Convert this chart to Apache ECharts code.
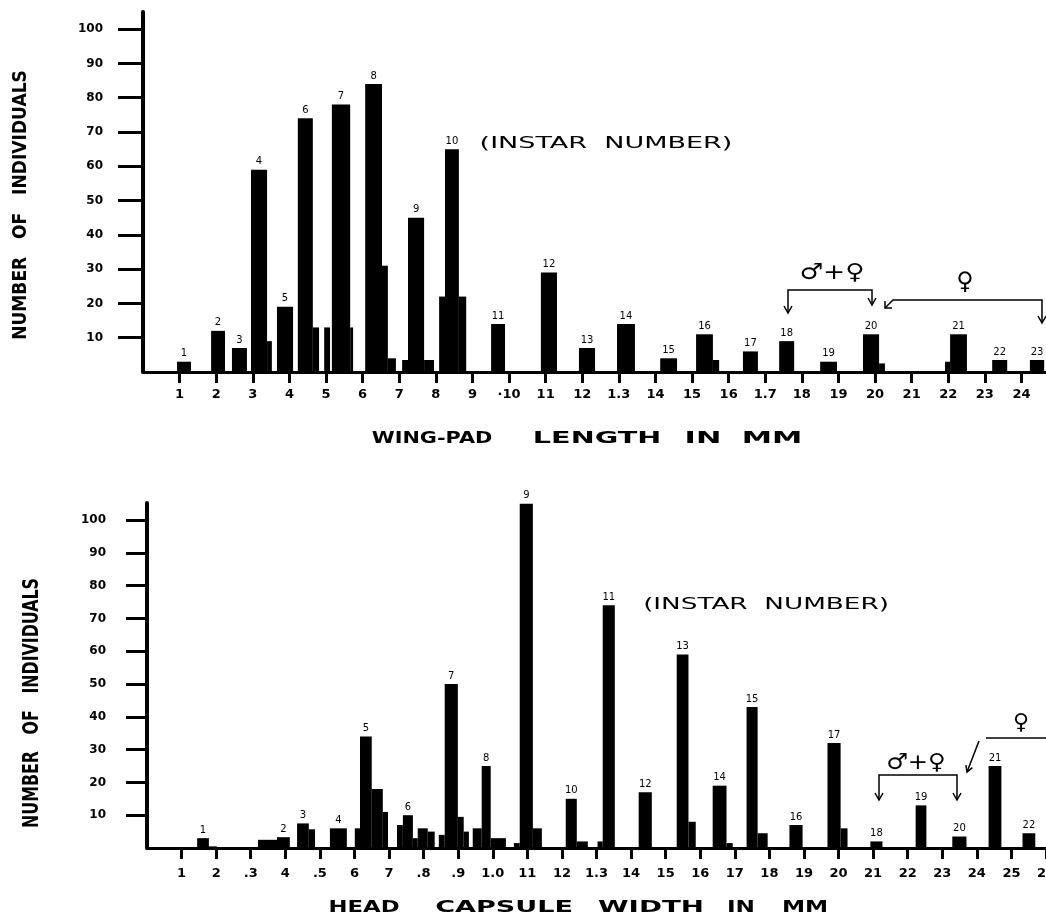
<!DOCTYPE html>
<html>
<head>
<meta charset="utf-8">
<script src="https://cdn.jsdelivr.net/npm/echarts@6/dist/echarts.min.js"></script>
<style>html,body{margin:0;padding:0;background:#fff}#c{width:1046px;height:919px}</style>
</head>
<body>
<div id="c"></div>
<script>
// ---- Wing-pad length histogram (top) ----
var wingStart  = [0.93,1.86,2.43,2.95,3.39,3.66,4.23,4.64,4.95,5.16,5.66,6.07,6.53,6.69,7.08,7.24,7.68,8.09,8.25,8.63,9.51,10.87,11.91,12.95,14.13,15.11,15.57,16.39,17.38,18.50,19.67,20.11,21.91,22.05,23.20,24.23];
var wingEnd    = [1.31,2.24,2.84,3.39,3.52,4.10,4.64,4.81,5.11,5.66,5.74,6.53,6.69,6.91,7.24,7.68,7.95,8.25,8.63,8.83,9.89,11.31,12.35,13.44,14.59,15.57,15.74,16.80,17.79,18.96,20.11,20.27,22.05,22.51,23.61,24.62];
var wingCount  = [3,12,7,59,9,19,74,13,13,78,13,84,31,4,3.5,45,3.5,22,65,22,14,29,7,14,4,11,3.5,6,9,3,11,2.5,3,11,3.5,3.5];
var wingInstar = ['1','2','3','4','','5','6','','','7','','8','','','','9','','','10','','11','12','13','14','15','16','','17','18','19','20','','','21','22','23'];
var wingTickValues = [1,2,3,4,5,6,7,8,9,10,11,12,13,14,15,16,17,18,19,20,21,22,23,24];
var wingTickLabels = ['1','2','3','4','5','6','7','8','9','·10','11','12','1.3','14','15','16','1.7','18','19','20','21','22','23','24'];

// ---- Head capsule width histogram (bottom) ----
var headStart  = [1.45,1.79,3.21,3.76,4.34,4.68,5.29,6.01,6.16,6.50,6.82,7.23,7.40,7.69,7.83,8.12,8.44,8.61,8.99,9.16,9.42,9.68,9.94,10.61,10.78,11.16,12.11,12.43,13.03,13.18,14.22,15.32,15.66,16.36,16.76,17.34,17.66,18.58,19.68,20.06,20.92,22.23,23.29,24.34,25.32];
var headEnd    = [1.79,2.02,3.76,4.13,4.68,4.86,5.78,6.16,6.50,6.82,6.97,7.40,7.69,7.83,8.12,8.32,8.61,8.99,9.16,9.31,9.68,9.94,10.38,10.78,11.16,11.42,12.43,12.75,13.18,13.53,14.60,15.66,15.87,16.76,16.94,17.66,17.95,18.96,20.06,20.26,21.27,22.54,23.70,24.71,25.69];
var headCount  = [3,0.5,2.5,3.3,7.5,5.7,6,6,34,18,11,7,10,3,6,5,4,50,9.5,5,6,25,3,1.5,105,6,15,2,2,74,17,59,8,19,1.5,43,4.5,7,32,6,2,13,3.5,25,4.5];
var headInstar = ['1','','','2','3','','4','','5','','','','6','','','','','7','','','','8','','','9','','10','','','11','12','13','','14','','15','','16','17','','18','19','20','21','22'];
var headTickValues = [1,2,3,4,5,6,7,8,9,10,11,12,13,14,15,16,17,18,19,20,21,22,23,24,25,26];
var headTickLabels = ['1','2','.3','4','.5','6','7','.8','.9','1.0','11','12','1.3','14','15','16','17','18','19','20','21','22','23','24','25','26'];

var yTickValues = [10,20,30,40,50,60,70,80,90,100];

function buildData(s, e, c) {
  var out = [];
  for (var i = 0; i < s.length; i++) out.push([s[i], e[i], c[i], i]);
  return out;
}
function labelFn(vals, labs) {
  var m = {};
  vals.forEach(function (v, i) { m[v] = labs[i]; });
  return function (v) { return m[v] !== undefined ? m[v] : ''; };
}
function makeRender(labels) {
  return function (params, api) {
    var s = api.value(0), e = api.value(1), v = api.value(2), i = api.value(3);
    var p0 = api.coord([s, v]), p1 = api.coord([e, 0]);
    var children = [{
      type: 'rect',
      shape: { x: p0[0], y: p0[1], width: p1[0] - p0[0], height: p1[1] - p0[1] },
      style: { fill: '#000' }
    }];
    var lab = labels[i];
    if (lab) {
      children.push({
        type: 'text',
        style: { text: lab, x: (p0[0] + p1[0]) / 2, y: p0[1] - 3, align: 'center', verticalAlign: 'bottom',
                 font: '10px "DejaVu Sans"', fill: '#000' }
      });
    }
    return { type: 'group', children: children };
  };
}

var FONT = '"DejaVu Sans", sans-serif';
var COND = '"DejaVu Sans Condensed", "Liberation Sans Narrow", sans-serif';

function xAxisCfg(gi, max, vals, labs, margin) {
  return {
    type: 'value', gridIndex: gi, min: 0, max: max,
    axisLine: { show: true, lineStyle: { color: '#000', width: 3 } },
    axisTick: { show: true, length: 11, lineStyle: { color: '#000', width: 3 }, customValues: vals },
    axisLabel: { show: true, margin: margin, color: '#000', fontFamily: FONT, fontWeight: 'bold', fontSize: 13,
                 customValues: vals, formatter: labelFn(vals, labs), hideOverlap: false },
    splitLine: { show: false }
  };
}
function yAxisCfg(gi, max, tickLen, margin) {
  return {
    type: 'value', gridIndex: gi, min: 0, max: max,
    axisLine: { show: true, lineStyle: { color: '#000', width: 4 } },
    axisTick: { show: true, length: tickLen, lineStyle: { color: '#000', width: 3 }, customValues: yTickValues },
    axisLabel: { show: true, margin: margin, color: '#000', fontFamily: FONT, fontWeight: 'bold', fontSize: 12,
                 customValues: yTickValues },
    splitLine: { show: false }
  };
}

function txt(t, x, y, size, sx, opts) {
  opts = opts || {};
  return {
    type: 'text', x: x, y: y, scaleX: sx || 1, rotation: opts.rot || 0,
    style: { text: t, x: 0, y: 0, align: 'center', verticalAlign: 'middle',
             font: (opts.weight || 'normal') + ' ' + size + 'px ' + (opts.family || FONT), fill: '#000' }
  };
}
function line(pts, w) {
  return { type: 'polyline', shape: { points: pts }, style: { stroke: '#000', lineWidth: w || 1.5, fill: null } };
}

var chart = echarts.init(document.getElementById('c'), null, { renderer: 'canvas' });
chart.setOption({
  animation: false,
  backgroundColor: '#fff',
  grid: [
    { left: 143, top: 12, height: 360, right: 0, containLabel: false, outerBoundsMode: 'none' },
    { left: 147, top: 503, height: 345, right: 0, containLabel: false, outerBoundsMode: 'none' }
  ],
  xAxis: [
    xAxisCfg(0, 24.67, wingTickValues, wingTickLabels, 16),
    xAxisCfg(1, 26, headTickValues, headTickLabels, 19)
  ],
  yAxis: [
    yAxisCfg(0, 105, 25, 40),
    yAxisCfg(1, 105.2, 21, 41)
  ],
  series: [
    { type: 'custom', xAxisIndex: 0, yAxisIndex: 0, renderItem: makeRender(wingInstar),
      encode: { x: [0, 1], y: 2 }, data: buildData(wingStart, wingEnd, wingCount) },
    { type: 'custom', xAxisIndex: 1, yAxisIndex: 1, renderItem: makeRender(headInstar),
      encode: { x: [0, 1], y: 2 }, data: buildData(headStart, headEnd, headCount) }
  ],
  graphic: [
    // y-axis names
    txt('NUMBER   OF   INDIVIDUALS', 21, 205, 19, 1, { rot: Math.PI / 2, weight: 'bold', family: COND }),
    txt('NUMBER   OF   INDIVIDUALS', 32, 703, 22, 0.8, { rot: Math.PI / 2, weight: 'bold', family: COND }),
    // top x-axis title
    txt('WING-PAD', 432, 439, 16, 1.3, { weight: 'bold' }),
    txt('LENGTH', 597, 439, 16, 1.79, { weight: 'bold' }),
    txt('IN', 703, 439, 16, 1.9, { weight: 'bold' }),
    txt('MM', 772, 439, 16, 1.9, { weight: 'bold' }),
    // bottom x-axis title
    txt('HEAD', 364, 908, 16, 1.42, { weight: 'bold' }),
    txt('CAPSULE', 504, 908, 16, 1.69, { weight: 'bold' }),
    txt('WIDTH', 651, 908, 16, 1.73, { weight: 'bold' }),
    txt('IN', 741, 908, 16, 1.45, { weight: 'bold' }),
    txt('MM', 805, 908, 16, 1.45, { weight: 'bold' }),
    // instar notes
    txt('(INSTAR  NUMBER)', 606, 144, 15, 1.8),
    txt('(INSTAR  NUMBER)', 766, 605, 15, 1.75),
    // top sex brackets
    txt('♂+♀', 832, 273, 22, 1.2),
    line([[788, 313], [788, 290], [872, 290], [872, 305]]),
    line([[784, 306], [788, 313], [792, 306]]),
    line([[868, 298], [872, 305], [876, 298]]),
    txt('♀', 965, 283, 24, 1),
    line([[885, 308], [893, 300], [1042, 300], [1042, 323]]),
    line([[892, 308], [885, 308], [885, 301]]),
    line([[1038, 316], [1042, 323], [1046, 316]]),
    // bottom sex brackets
    txt('♂+♀', 916, 763, 22, 1.1),
    line([[879, 800], [879, 775], [957, 775], [957, 800]]),
    line([[875, 793], [879, 800], [883, 793]]),
    line([[953, 793], [957, 800], [961, 793]]),
    txt('♀', 1021, 723, 22, 1),
    line([[986, 738], [1046, 738]]),
    line([[979, 741], [967, 772]]),
    line([[972.4, 767.6], [967, 772], [965.9, 765.1]])
  ]
});
</script>
</body>
</html>
